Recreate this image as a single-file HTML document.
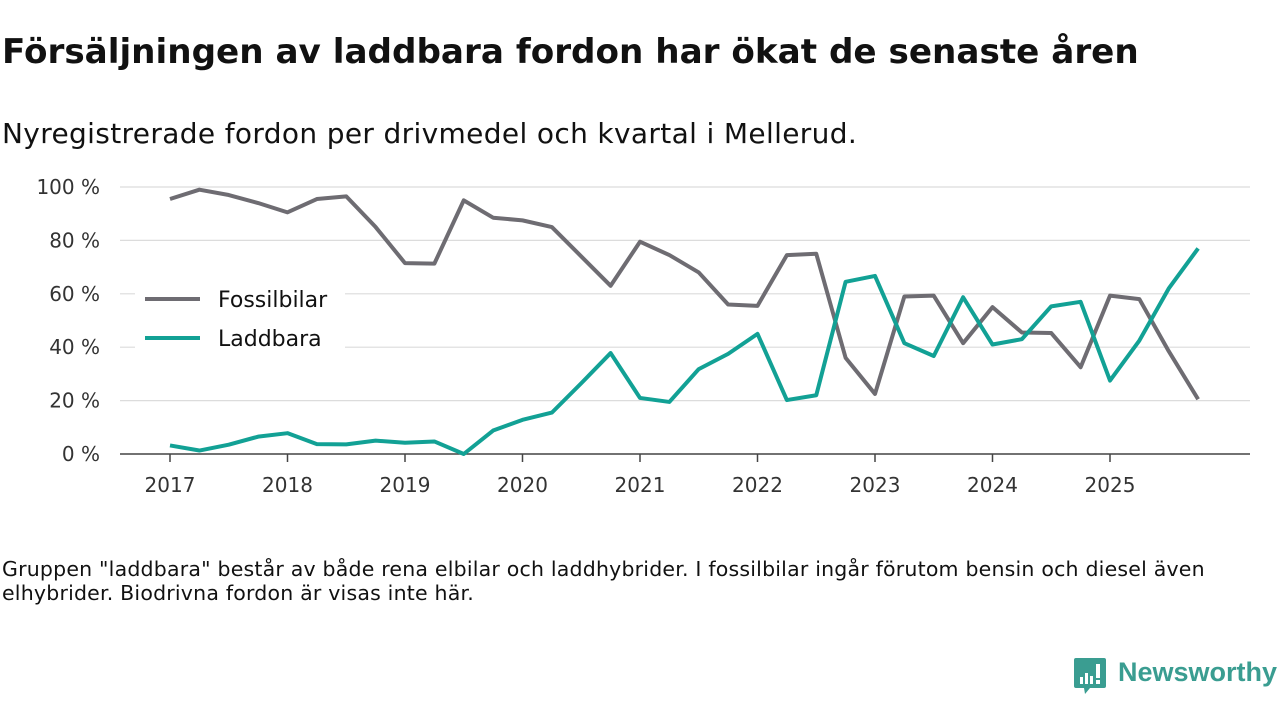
<!DOCTYPE html>
<html><head><meta charset="utf-8">
<style>
body{margin:0;width:1280px;height:720px;background:#fff;font-family:"DejaVu Sans","Liberation Sans",sans-serif;color:#111;overflow:hidden;position:relative}
.t{position:absolute;white-space:nowrap}
</style></head><body>
<div class="t" style="left:2px;top:32px;font-size:34.2px;font-weight:bold">Försäljningen av laddbara fordon har ökat de senaste åren</div>
<div class="t" style="left:2px;top:117px;font-size:28px;letter-spacing:0.35px">Nyregistrerade fordon per drivmedel och kvartal i Mellerud.</div>
<svg id="chart" width="1280" height="520" style="position:absolute;left:0;top:0;font-family:'DejaVu Sans',sans-serif"></svg>
<div class="t" style="left:2px;top:557px;font-size:20.5px;letter-spacing:0.2px;line-height:24px;white-space:normal;width:1215px">Gruppen "laddbara" består av både rena elbilar och laddhybrider. I fossilbilar ingår förutom bensin och diesel även elhybrider. Biodrivna fordon är visas inte här.</div>
<div style="position:absolute;left:1073px;top:656px">
<svg width="36" height="42" style="position:absolute;left:0;top:0"><path d="M3 2h28a2 2 0 0 1 2 2v26a2 2 0 0 1-2 2H17l-5 6-1-6H3a2 2 0 0 1-2-2V4a2 2 0 0 1 2-2z" fill="#3a9d91"/><rect x="7" y="21" width="3" height="7" fill="#fff"/><rect x="12" y="17" width="3" height="11" fill="#fff"/><rect x="17" y="20" width="3" height="8" fill="#fff"/><rect x="23" y="8" width="4" height="14" fill="#fff"/><rect x="23" y="24" width="4" height="4" fill="#fff"/></svg>
<div class="t" style="left:45px;top:1px;font-size:27px;font-weight:bold;color:#3a9d91;font-family:'Liberation Sans',sans-serif">Newsworthy</div>
</div>
<script>
const years=["2017","2018","2019","2020","2021","2022","2023","2024","2025"];
const yTicks=[0,20,40,60,80,100];
const fossil=[95.5,99,97,94,90.5,95.5,96.5,85,71.5,71.3,95,88.5,87.5,85,74,63,79.5,74.5,68,56,55.5,74.5,75,36,22.5,59,59.3,41.5,55,45.5,45.3,32.5,59.3,58,38.5,20.5];
const laddbara=[3.2,1.3,3.5,6.5,7.8,3.7,3.6,5,4.2,4.7,0,8.8,12.8,15.5,26.5,37.8,21,19.5,31.8,37.5,45,20.2,22,64.5,66.7,41.5,36.7,58.7,41,43,55.3,57,27.5,42.5,62,77];
const svg=document.getElementById('chart');const NS='http://www.w3.org/2000/svg';
const x=i=>170+i*(940/32);const y=v=>454-v*2.67;
function mk(t,a,p){const e=document.createElementNS(NS,t);for(const k in a)e.setAttribute(k,a[k]);(p||svg).appendChild(e);return e;}
yTicks.forEach(v=>{
 const l=mk('line',{x1:120,x2:1250,y1:y(v),y2:y(v),stroke:v?'#dcdcdc':'#444','stroke-width':v?1.2:1.5});
 
 
 const t=mk('text',{x:100,y:y(v)+7,'text-anchor':'end','font-size':20,fill:'#333'});t.textContent=v+' %';
 
 
});
years.forEach((yr,k)=>{
 const xx=x(k*4);
 mk('line',{x1:xx,x2:xx,y1:454,y2:462,stroke:'#444','stroke-width':1.5});
 const t=mk('text',{x:xx,y:492,'text-anchor':'middle','font-size':20,fill:'#333'});t.textContent=yr;
 
 
});
function series(d,c,n){
 const p=mk('polyline',{points:d.map((v,i)=>x(i)+','+y(v)).join(' '),fill:'none',stroke:c,'stroke-width':4,'stroke-linejoin':'round'});
 
 
}
series(fossil,'#6e6c72','fossilbilar-line');
series(laddbara,'#12a195','laddbara-line');
[['Fossilbilar','#6e6c72',299],['Laddbara','#12a195',338]].forEach(([n,c,yy])=>{
 const g=mk('g',{});
 
 
 mk('rect',{x:135,y:yy-20,width:210,height:36,fill:'#fff'},g);
 mk('line',{x1:145,x2:200,y1:yy,y2:yy,stroke:c,'stroke-width':4},g);
 const t=mk('text',{x:218,y:yy+8,'font-size':22,fill:'#111'},g);t.textContent=n;
});
</script>
</body></html>
